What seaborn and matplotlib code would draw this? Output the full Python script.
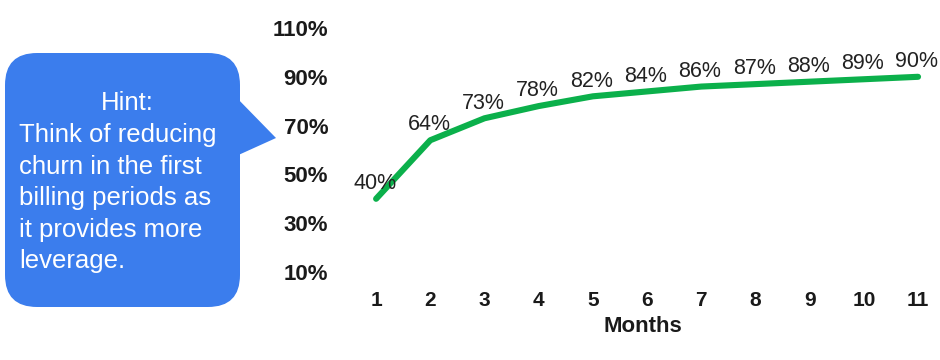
import matplotlib
matplotlib.use("Agg")
import matplotlib.pyplot as plt
import seaborn as sns
import pandas as pd
from matplotlib.patches import FancyBboxPatch, Polygon

months = [1, 2, 3, 4, 5, 6, 7, 8, 9, 10, 11]
retention = [40, 64, 73, 78, 82, 84, 86, 87, 88, 89, 90]
y_ticks = [10, 30, 50, 70, 90, 110]
x_label = "Months"
hint_title = "Hint:"
hint_lines = ["Think of reducing", "churn in the first", "billing periods as",
              "it provides more", "leverage."]

sns.set_theme(style="white")
plt.rcParams["font.family"] = ["Liberation Sans", "DejaVu Sans"]

W, H = 940, 360
fig = plt.figure(figsize=(W / 100, H / 100), dpi=100)
# axes: x from 349px to 937px, y from 28px to 272px (top-origin)
ax = fig.add_axes([349 / W, (H - 272) / H, (937 - 349) / W, (272 - 28) / H])

df = pd.DataFrame({"Month": months, "Retention": retention})
sns.lineplot(data=df, x="Month", y="Retention", ax=ax, color="#0BB04B",
             linewidth=4.4, solid_capstyle="round", solid_joinstyle="round")

for m, r in zip(months, retention):
    ax.annotate(f"{r}%", (m, r), xytext=(-1, 11), textcoords="offset points",
                ha="center", va="center", fontsize=15.5, color="#222222")

ax.set_xlim(0.5, 11.35)
ax.set_ylim(10, 110)
ax.set_xticks(months)
ax.set_xticklabels([str(m) for m in months], fontweight="bold", fontsize=15, color="#1a1a1a")
ax.set_yticks(y_ticks)
ax.set_yticklabels([f"{t}%" for t in y_ticks], fontweight="bold", fontsize=16, color="#1a1a1a")
ax.tick_params(axis="y", length=0, pad=15)
ax.tick_params(axis="x", length=0, pad=14)
ax.set_xlabel(x_label, fontweight="bold", fontsize=16, color="#1a1a1a", labelpad=4)
ax.set_ylabel("")
for s in ax.spines.values():
    s.set_visible(False)
ax.grid(False)
ax.patch.set_alpha(0)

# callout bubble (figure pixel coordinates)
blue = "#3B7DED"
tr = fig.transFigure
def fx(px):
    return px / W
def fy(py):
    return (H - py) / H

r = 32
box = FancyBboxPatch((fx(5 + r), fy(307 - r)), fx(235 - 2 * r), (254 - 2 * r) / H,
                     boxstyle=f"round,pad={r / W}", transform=tr,
                     facecolor=blue, edgecolor="none", mutation_aspect=W / H)
fig.patches.append(box)
tri = Polygon([(fx(234), fy(95)), (fx(276), fy(138)), (fx(234), fy(157))],
              closed=True, transform=tr, facecolor=blue, edgecolor="none")
fig.patches.append(tri)

fig.text(fx(127), fy(103), hint_title, ha="center", va="center", color="white", fontsize=18.5)
for i, line in enumerate(hint_lines):
    fig.text(fx(19), fy(135 + 31.5 * i), line, ha="left", va="center",
             color="white", fontsize=18.5)

fig.savefig("out.png", dpi=100)
